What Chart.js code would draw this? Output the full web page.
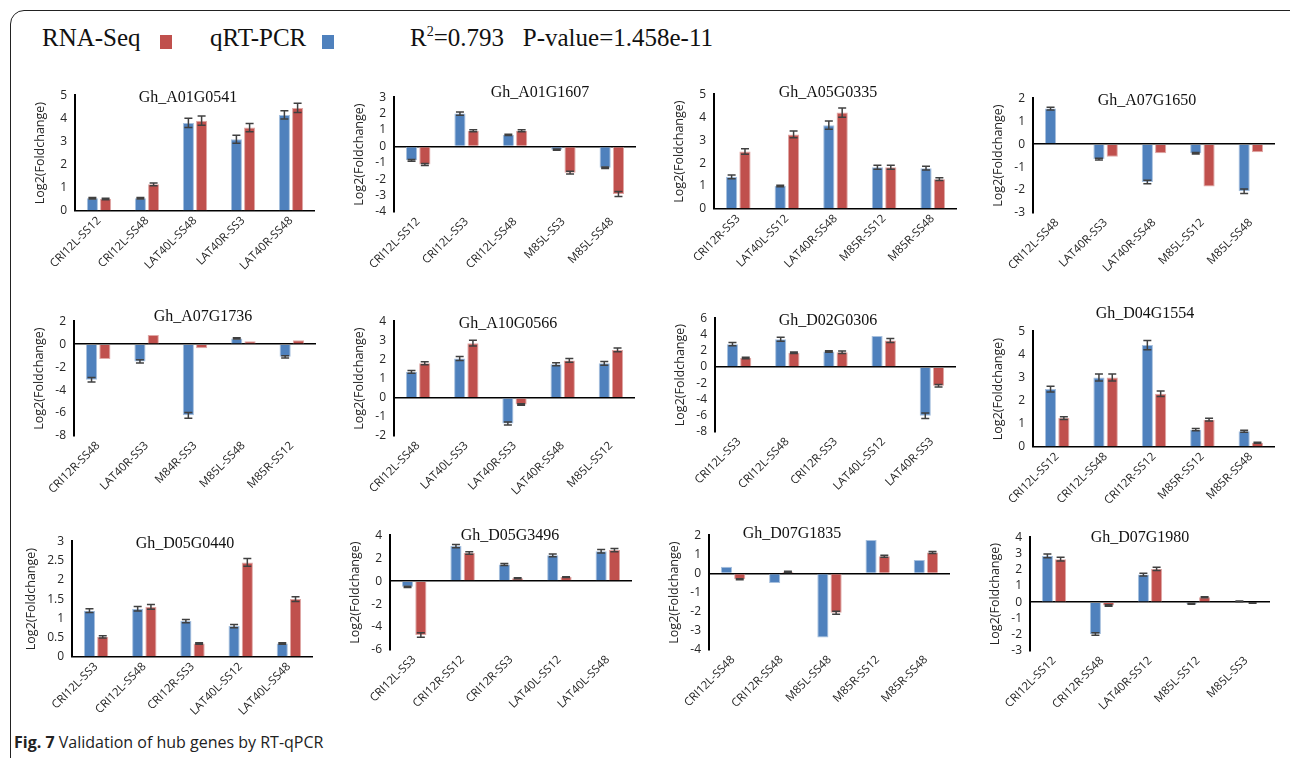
<!DOCTYPE html>
<html>
<head>
<meta charset="utf-8">
<script src="https://cdn.jsdelivr.net/npm/chart.js@4.4.1/dist/chart.umd.min.js"></script>
<style>
  body { margin: 0; width: 1290px; height: 758px; overflow: hidden; background: #fff; position: relative; font-family: "Open Sans", sans-serif; }
  .frame { position: absolute; left: 10px; top: 10px; width: 1300px; height: 800px; border: 1.5px solid #222; border-top-left-radius: 14px; }
  canvas { position: absolute; }
  .gene { position: absolute; font-family: "Liberation Serif", "Times New Roman", serif; font-size: 16px; color: #111; transform: translate(-50%, -50%); white-space: nowrap; }
  .head { position: absolute; top: 24px; font-family: "Liberation Serif", "Times New Roman", serif; font-size: 25px; color: #111; white-space: nowrap; }
  .head sup { font-size: 14px; vertical-align: 10px; line-height: 0; }
  .sq { position: absolute; top: 35px; width: 12px; height: 14px; }
  .caption { position: absolute; left: 14px; top: 731px; font-size: 16px; color: #222; }
</style>
</head>
<body>
<div class="frame"></div>
<div class="head" style="left:42px">RNA-Seq</div>
<div class="sq" style="left:160px;background:#C0504D"></div>
<div class="head" style="left:210px">qRT-PCR</div>
<div class="sq" style="left:322px;background:#4F81BD"></div>
<div class="head" style="left:410px">R<sup>2</sup>=0.793&nbsp;&nbsp; P-value=1.458e-11</div>
<div class="caption"><b>Fig. 7</b> Validation of hub genes by RT-qPCR</div>

<script>
// gene panels
const genes = ["Gh_A01G0541", "Gh_A01G1607", "Gh_A05G0335", "Gh_A07G1650",
               "Gh_A07G1736", "Gh_A10G0566", "Gh_D02G0306", "Gh_D04G1554",
               "Gh_D05G0440", "Gh_D05G3496", "Gh_D07G1835", "Gh_D07G1980"];

const categories = [
    ["CRI12L-SS12", "CRI12L-SS48", "LAT40L-SS48", "LAT40R-SS3", "LAT40R-SS48"],
    ["CRI12L-SS12", "CRI12L-SS3", "CRI12L-SS48", "M85L-SS3", "M85L-SS48"],
    ["CRI12R-SS3", "LAT40L-SS12", "LAT40R-SS48", "M85R-SS12", "M85R-SS48"],
    ["CRI12L-SS48", "LAT40R-SS3", "LAT40R-SS48", "M85L-SS12", "M85L-SS48"],
    ["CRI12R-SS48", "LAT40R-SS3", "M84R-SS3", "M85L-SS48", "M85R-SS12"],
    ["CRI12L-SS48", "LAT40L-SS3", "LAT40R-SS3", "LAT40R-SS48", "M85L-SS12"],
    ["CRI12L-SS3", "CRI12L-SS48", "CRI12R-SS3", "LAT40L-SS12", "LAT40R-SS3"],
    ["CRI12L-SS12", "CRI12L-SS48", "CRI12R-SS12", "M85R-SS12", "M85R-SS48"],
    ["CRI12L-SS3", "CRI12L-SS48", "CRI12R-SS3", "LAT40L-SS12", "LAT40L-SS48"],
    ["CRI12L-SS3", "CRI12R-SS12", "CRI12R-SS3", "LAT40L-SS12", "LAT40L-SS48"],
    ["CRI12L-SS48", "CRI12R-SS48", "M85L-SS48", "M85R-SS12", "M85R-SS48"],
    ["CRI12L-SS12", "CRI12R-SS48", "LAT40R-SS12", "M85L-SS12", "M85L-SS3"]
];

const qpcr = [
    [0.55, 0.55, 3.8, 3.1, 4.15],
    [-0.85, 2.0, 0.7, -0.2, -1.3],
    [1.4, 1.0, 3.65, 1.82, 1.78],
    [1.55, -0.65, -1.65, -0.4, -2.05],
    [-3.1, -1.5, -6.2, 0.5, -1.1],
    [1.35, 2.05, -1.35, 1.75, 1.8],
    [2.8, 3.4, 1.9, 3.8, -6.0],
    [2.5, 3.0, 4.4, 0.75, 0.68],
    [1.2, 1.25, 0.93, 0.8, 0.35],
    [-0.5, 3.05, 1.45, 2.25, 2.6],
    [0.35, -0.5, -3.35, 1.75, 0.7],
    [2.85, -1.95, 1.7, -0.1, 0.05]
];

const rnaSeq = [
    [0.52, 1.15, 3.9, 3.6, 4.45],
    [-1.1, 0.95, 0.95, -1.6, -2.9],
    [2.5, 3.25, 4.2, 1.82, 1.3],
    [0, -0.55, -0.4, -1.85, -0.35],
    [-1.3, 0.8, -0.35, 0.25, 0.35],
    [1.8, 2.85, -0.35, 1.95, 2.5],
    [1.1, 1.75, 1.8, 3.25, -2.3],
    [1.25, 3.0, 2.3, 1.18, 0.18],
    [0.52, 1.3, 0.35, 2.45, 1.5],
    [-4.7, 2.45, 0.25, 0.35, 2.7],
    [-0.3, 0.08, -2.05, 0.9, 1.1],
    [2.65, -0.2, 2.05, 0.3, -0.05]
];

const qpcrErr = [
    [0.03, 0.03, 0.2, 0.17, 0.18],
    [0.05, 0.1, 0.04, 0.04, 0.05],
    [0.08, 0.03, 0.18, 0.09, 0.08],
    [0.06, 0.04, 0.08, 0.03, 0.1],
    [0.2, 0.15, 0.25, 0.05, 0.1],
    [0.07, 0.1, 0.08, 0.08, 0.1],
    [0.2, 0.25, 0.1, 0, 0.35],
    [0.12, 0.15, 0.2, 0.05, 0.04],
    [0.05, 0.06, 0.04, 0.04, 0.02],
    [0.05, 0.15, 0.08, 0.12, 0.15],
    [0, 0, 0, 0, 0],
    [0.12, 0.08, 0.08, 0.03, 0.02]
];

const rnaSeqErr = [
    [0.03, 0.06, 0.2, 0.18, 0.2],
    [0.06, 0.06, 0.06, 0.08, 0.15],
    [0.12, 0.15, 0.2, 0.09, 0.06],
    [0, 0, 0, 0, 0],
    [0, 0, 0, 0, 0],
    [0.08, 0.15, 0.04, 0.1, 0.1],
    [0.1, 0.1, 0.15, 0.25, 0.15],
    [0.06, 0.15, 0.12, 0.06, 0.02],
    [0.03, 0.06, 0.02, 0.1, 0.06],
    [0.2, 0.1, 0.04, 0.04, 0.15],
    [0.03, 0.03, 0.08, 0.05, 0.05],
    [0.12, 0.05, 0.1, 0.03, 0.02]
];

const yMin  = [0, -4, 0, -3, -8, -2, -8, 0, 0, -6, -4, -3];
const yMax  = [5, 3, 5, 2, 2, 4, 6, 5, 3, 4, 2, 4];
const yStep = [1, 1, 1, 1, 2, 1, 2, 1, 0.5, 2, 1, 1];

// page layout: [y axis x, top, right end, bottom] of each plot area
const boxes = [
    [75, 88, 315, 211], [394, 90, 636, 212], [714, 87, 957, 209], [1033, 91, 1275, 213],
    [74, 314, 316, 436], [394, 314, 635, 436], [715, 311, 956, 432], [1033, 324, 1275, 447],
    [72, 534, 313, 657], [390, 528, 632, 650], [709, 528, 950, 650], [1030, 530, 1270, 651]
];
const yAxisWidth = [42, 42, 42, 42, 42, 42, 42, 42, 48, 42, 42, 42];
const titlePos = [
    [188, 97], [540, 92], [828, 92], [1147, 100],
    [203, 316], [508, 323], [828, 320], [1145, 313],
    [185, 543], [510, 535], [792, 533], [1140, 537]
];

const PAD_TOP = 8, PAD_RIGHT = 4, X_H = 64;

Chart.defaults.font.family = "'Open Sans', sans-serif";
Chart.defaults.color = "#262626";

// error bars (+/-) drawn from the y scale
const errorBars = {
    id: "errorBars",
    afterDatasetsDraw(chart) {
        const ctx = chart.ctx;
        const y = chart.scales.y;
        ctx.save();
        ctx.strokeStyle = "#404040";
        ctx.lineWidth = 1.5;
        chart.data.datasets.forEach((ds, i) => {
            chart.getDatasetMeta(i).data.forEach((bar, j) => {
                const e = ds.errors[j];
                if (!e) return;
                const top = y.getPixelForValue(ds.data[j] + e);
                const bot = y.getPixelForValue(ds.data[j] - e);
                ctx.beginPath();
                ctx.moveTo(bar.x, top); ctx.lineTo(bar.x, bot);
                ctx.moveTo(bar.x - 4, top); ctx.lineTo(bar.x + 4, top);
                ctx.moveTo(bar.x - 4, bot); ctx.lineTo(bar.x + 4, bot);
                ctx.stroke();
            });
        });
        ctx.restore();
    }
};

genes.forEach((gene, k) => {
    const [ax, top, right, bottom] = boxes[k];
    const yw = yAxisWidth[k];
    const canvas = document.createElement("canvas");
    const left = ax - yw;
    const cTop = top - PAD_TOP;
    const w = right - left + PAD_RIGHT;
    const h = bottom - cTop + X_H;
    canvas.width = w; canvas.height = h;
    canvas.style.left = left + "px";
    canvas.style.top = cTop + "px";
    canvas.style.width = w + "px";
    canvas.style.height = h + "px";
    document.body.appendChild(canvas);

    const t = document.createElement("div");
    t.className = "gene";
    t.textContent = gene;
    t.style.left = titlePos[k][0] + "px";
    t.style.top = titlePos[k][1] + "px";
    document.body.appendChild(t);

    new Chart(canvas, {
        type: "bar",
        data: {
            labels: categories[k],
            datasets: [
                { label: "qRT-PCR", data: qpcr[k], errors: qpcrErr[k],
                  backgroundColor: "#4F81BD", borderColor: "#A7C0DE", borderWidth: 1 },
                { label: "RNA-Seq", data: rnaSeq[k], errors: rnaSeqErr[k],
                  backgroundColor: "#C0504D", borderColor: "#E0A8A6", borderWidth: 1 }
            ]
        },
        options: {
            responsive: false,
            animation: false,
            devicePixelRatio: 1,
            categoryPercentage: 0.55,
            barPercentage: 0.84,
            layout: { padding: { top: PAD_TOP, right: PAD_RIGHT, left: 0, bottom: 0 } },
            plugins: { legend: { display: false }, tooltip: { enabled: false } },
            scales: {
                x: {
                    grid: { display: false, drawTicks: false },
                    border: { display: false },
                    ticks: { autoSkip: false, minRotation: 45, maxRotation: 45, padding: 3,
                             font: { size: 11.5 } },
                    afterFit: s => { s.height = X_H; }
                },
                y: {
                    min: yMin[k], max: yMax[k],
                    ticks: { stepSize: yStep[k], autoSkip: false, padding: 8, font: { size: 12 },
                             callback: v => String(v) },
                    grid: { drawTicks: false, lineWidth: 1.5,
                            color: c => c.tick && c.tick.value === 0 ? "#000" : "rgba(0,0,0,0)" },
                    border: { display: true, color: "#000", width: 2 },
                    title: { display: true, text: "Log2(Foldchange)", font: { size: 12.5 },
                             padding: { top: 0, bottom: 2 } },
                    afterFit: s => { s.width = yw; }
                }
            }
        },
        plugins: [errorBars]
    });
});
</script>
</body>
</html>
